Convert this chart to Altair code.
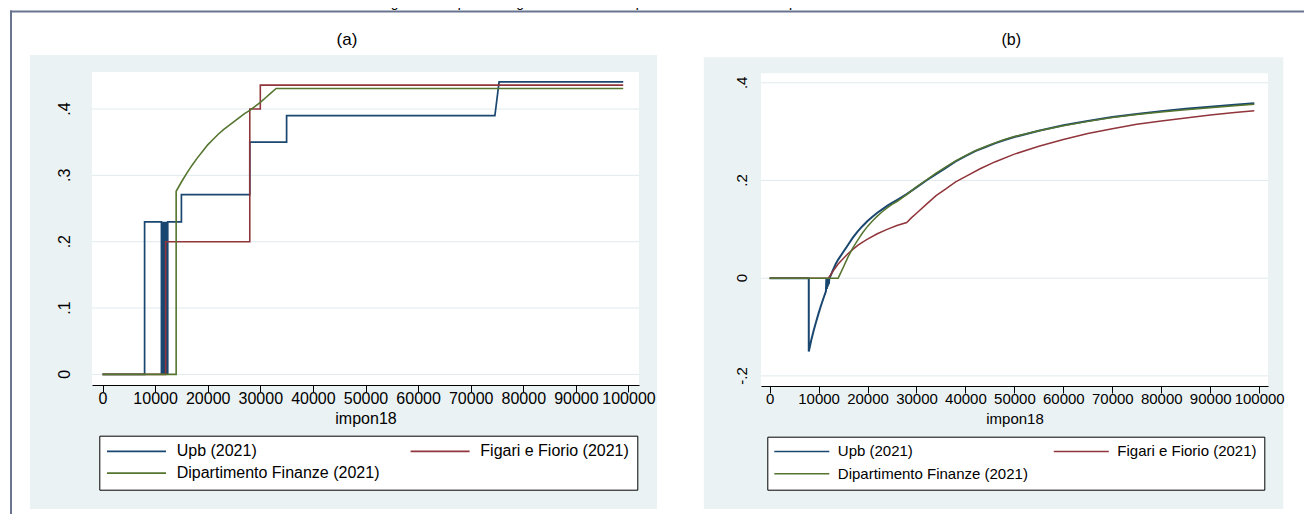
import altair as alt
import pandas as pd

FONT = "Liberation Sans"
BG = "#EAF2F3"
GRID = "#E1EAED"
FRAME = "#6A7490"

MAIN_TITLE = ("Figura 3. Aliquote marginali effettive e aliquote medie -lavoratori "
              "dipendenti senza carichi familiari \u2013 3 scenari")
SERIES = ["Upb (2021)", "Figari e Fiorio (2021)", "Dipartimento Finanze (2021)"]
COLORS = ["#1A476F", "#90353B", "#55752F"]
X_TICKS = [0, 10000, 20000, 30000, 40000, 50000, 60000, 70000, 80000, 90000, 100000]
A_Y_TICKS = [0, 0.1, 0.2, 0.3, 0.4]
A_Y_LABELS = ["0", ".1", ".2", ".3", ".4"]
B_Y_TICKS = [-0.2, 0, 0.2, 0.4]
B_Y_LABELS = ["-.2", "0", ".2", ".4"]

# ---- panel (a): effective marginal rates ----
A_UPB_X = [0, 8000, 8000, 11200, 11200, 11300, 11400, 11500, 11600, 11700, 11800, 11900,
           12000, 12100, 12200, 12300, 12400, 12400, 15000, 15000, 28000, 28000, 35000,
           35000, 74600, 75400, 99000]
A_UPB_Y = [0, 0, 0.23, 0.23, 0, 0.23, 0, 0.23, 0, 0.23, 0, 0.23, 0, 0.23, 0, 0.23, 0,
           0.23, 0.23, 0.271, 0.271, 0.35, 0.35, 0.39, 0.39, 0.441, 0.441]
A_FF_X = [0, 12000, 12000, 28000, 28000, 30000, 30000, 99000]
A_FF_Y = [0, 0, 0.2, 0.2, 0.4, 0.4, 0.436, 0.436]
A_DF_X = [0, 14000, 14000, 15000, 16000, 17000, 18000, 19000, 20000, 21000, 22000, 23000,
          24000, 25000, 26000, 27000, 28000, 29000, 30000, 31000, 32000, 33000, 99000]
A_DF_Y = [0, 0, 0.276, 0.290, 0.303, 0.315, 0.326, 0.336, 0.346, 0.354, 0.362, 0.369,
          0.375, 0.381, 0.387, 0.393, 0.398, 0.404, 0.410, 0.417, 0.424, 0.431, 0.431]

# ---- panel (b): average rates ----
B_UPB_X = [0, 8000, 8000, 8500, 9000, 9500, 10000, 10500, 11000, 11500, 11600, 11700, 11800,
           11900, 12000, 12100, 12200, 12500, 13000, 13500, 14000, 15000, 16000, 17000, 18000,
           19000, 20000, 21000, 22000, 23000, 24000, 25000, 26000, 27000, 28000, 30000, 32000,
           34000, 36000, 38000, 40000, 42000, 44000, 46000, 48000, 50000, 55000, 60000, 65000,
           70000, 75000, 80000, 85000, 90000, 95000, 99000]
B_UPB_Y = [0, 0, -0.150, -0.127, -0.107, -0.089, -0.072, -0.056, -0.041, -0.027, 0, -0.022, 0,
           -0.017, 0, -0.012, 0, 0.006, 0.018, 0.029, 0.038, 0.053, 0.068, 0.083, 0.096,
           0.107, 0.117, 0.126, 0.134, 0.141, 0.148, 0.154, 0.160, 0.166, 0.172, 0.186, 0.200,
           0.213, 0.226, 0.239, 0.250, 0.260, 0.268, 0.276, 0.283, 0.289, 0.302, 0.313, 0.322,
           0.330, 0.336, 0.342, 0.347, 0.351, 0.355, 0.358]
B_FF_X = [0, 12000, 13000, 14000, 15000, 16000, 17000, 18000, 19000, 20000, 22000, 24000,
          26000, 28000, 29000, 30000, 32000, 34000, 36000, 38000, 40000, 43000, 46000, 50000,
          55000, 60000, 65000, 70000, 75000, 80000, 85000, 90000, 95000, 99000]
B_FF_Y = [0, 0, 0.015, 0.029, 0.040, 0.050, 0.059, 0.067, 0.074, 0.080, 0.091, 0.100,
          0.108, 0.114, 0.124, 0.133, 0.151, 0.169, 0.183, 0.197, 0.208, 0.224, 0.238, 0.254,
          0.270, 0.284, 0.296, 0.306, 0.315, 0.322, 0.328, 0.334, 0.339, 0.343]
B_DF_X = [0, 14000, 15000, 16000, 17000, 18000, 19000, 20000, 21000, 22000, 23000, 24000,
          25000, 26000, 27000, 28000, 30000, 32000, 34000, 36000, 38000, 40000, 42000, 44000,
          46000, 48000, 50000, 55000, 60000, 65000, 70000, 75000, 80000, 85000, 90000, 95000,
          99000]
B_DF_Y = [0, 0, 0.021, 0.043, 0.062, 0.078, 0.093, 0.106, 0.117, 0.127, 0.136, 0.144,
          0.151, 0.157, 0.164, 0.171, 0.187, 0.201, 0.215, 0.228, 0.240, 0.251, 0.261, 0.269,
          0.277, 0.284, 0.290, 0.302, 0.312, 0.321, 0.329, 0.335, 0.340, 0.345, 0.349, 0.353,
          0.356]


def series_df(xs, ys, name):
    return pd.DataFrame({"x": xs, "y": ys, "seq": list(range(len(xs))), "series": name})


ONE = pd.DataFrame({"k": [0]})


def panel(series, w, h, xdom, ydom, yticks, ylabels, ylab_x, fs, widths, legend, bg,
          white_top, title, title_x, title_fs, extra=None):
    xs = alt.Scale(domain=xdom, nice=False, zero=False)
    ys = alt.Scale(domain=ydom, nice=False, zero=False)
    xaxis = alt.Axis(values=X_TICKS, format="d", title="impon18", titleFont=FONT,
                     titleFontSize=fs, titleFontWeight="normal", titleColor="black",
                     titleY=38 if fs == 16 else 37, titleBaseline="alphabetic",
                     labelFont=FONT, labelFontSize=fs, labelColor="black",
                     labelPadding=11.3 if fs == 16 else 10.3, labelBaseline="alphabetic",
                     labelFlush=False, labelOverlap=False, tickSize=7, tickColor="black",
                     tickWidth=1, domainColor="black", domainWidth=1, grid=False, zindex=1)
    yaxis = alt.Axis(values=yticks, labels=False, title=None, tickSize=7,
                     tickColor="black", tickWidth=1, domainColor="black", domainWidth=1,
                     grid=False, zindex=1)
    color = alt.Color("series:N", scale=alt.Scale(domain=SERIES, range=COLORS), legend=legend)
    ticks_df = pd.DataFrame({"g": yticks, "lab": ylabels})

    layers = []
    if extra:
        layers.extend(extra)
    layers.append(alt.Chart(ONE).mark_rect(color=BG).encode(
        x=alt.value(bg[0]), x2=alt.value(bg[1]), y=alt.value(bg[2]), y2=alt.value(bg[3])))
    layers.append(alt.Chart(ONE).mark_rect(color="white").encode(
        x=alt.value(0), x2=alt.value(w), y=alt.value(white_top), y2=alt.value(h)))
    layers.append(alt.Chart(ticks_df).mark_rule(color=GRID, strokeWidth=1).encode(
        y=alt.Y("g:Q", scale=ys, axis=None), x=alt.value(0), x2=alt.value(w)))
    # rotated Stata-style y tick labels, placed through the y scale
    layers.append(alt.Chart(ticks_df).mark_text(
        angle=270, align="center", baseline="alphabetic", font=FONT, fontSize=fs,
        color="black").encode(
        y=alt.Y("g:Q", scale=ys, axis=None), x=alt.value(ylab_x), text="lab:N"))
    for df, sw in zip(series, widths):
        layers.append(alt.Chart(df).mark_line(strokeWidth=sw, clip=True).encode(
            x=alt.X("x:Q", scale=xs, axis=xaxis),
            y=alt.Y("y:Q", scale=ys, axis=yaxis),
            color=color,
            order=alt.Order("seq:Q")))
    layers.append(alt.Chart(ONE).mark_text(
        text=title, font=FONT, fontSize=title_fs, color="black", align="center",
        baseline="alphabetic").encode(x=alt.value(title_x), y=alt.value(-27.3)))
    return alt.layer(*layers).properties(width=w, height=h)


legend_a = alt.Legend(orient="none", legendX=7.3, legendY=363.7, columns=2,
                      direction="horizontal", title=None,
                      symbolType="M-1.6,0H10.2", symbolSize=100, symbolStrokeWidth=1.6,
                      labelFont=FONT, labelFontSize=16, labelColor="black", labelLimit=0,
                      labelOffset=53.7, columnPadding=26.6, rowPadding=5.7, padding=7.7,
                      fillColor="white", strokeColor="black", zindex=1)
legend_b = alt.Legend(orient="none", legendX=6.3, legendY=364.7, columns=2,
                      direction="horizontal", title=None,
                      symbolType="M-1.5,0H9.5", symbolSize=100, symbolStrokeWidth=1.5,
                      labelFont=FONT, labelFontSize=15, labelColor="black", labelLimit=0,
                      labelOffset=48.5, columnPadding=22.5, rowPadding=6.6, padding=7,
                      fillColor="white", strokeColor="black", zindex=1)

frame_and_title = [
    alt.Chart(ONE).mark_rule(color=FRAME, strokeWidth=2).encode(
        x=alt.value(-82), x2=alt.value(1212), y=alt.value(-60.5)),
    alt.Chart(ONE).mark_rule(color=FRAME, strokeWidth=2).encode(
        x=alt.value(-81), y=alt.value(-61.5), y2=alt.value(445)),
    alt.Chart(ONE).mark_text(text=MAIN_TITLE, font=FONT, fontSize=14, color="black",
                             align="center", baseline="alphabetic").encode(
        x=alt.value(624), y=alt.value(-65)),
]

chart_a = panel(
    [series_df(A_UPB_X, A_UPB_Y, SERIES[0]), series_df(A_FF_X, A_FF_Y, SERIES[1]),
     series_df(A_DF_X, A_DF_Y, SERIES[2])],
    547, 313, [-2000, 102000], [-0.016, 0.4558], A_Y_TICKS, A_Y_LABELS, -22, 16,
    [1.7, 1.6, 1.6], legend_a, [-62, 565, -17, 437], 0, "(a)", 255, 17,
    extra=frame_and_title)

chart_b = panel(
    [series_df(B_UPB_X, B_UPB_Y, SERIES[0]), series_df(B_FF_X, B_FF_Y, SERIES[1]),
     series_df(B_DF_X, B_DF_Y, SERIES[2])],
    507, 314, [-1760, 101800], [-0.2207, 0.4221], B_Y_TICKS, B_Y_LABELS, -14.5, 15,
    [2.0, 1.5, 1.5], legend_b, [-57.2, 522.3, -14.7, 437], 1.3, "(b)", 250.3, 16)

chart = alt.hconcat(chart_a, chart_b, spacing=122, bounds="flush").resolve_scale(
    x="independent", y="independent", color="independent"
).properties(
    autosize=alt.AutoSizeParams(type="none"),
    padding={"left": 84, "top": 64, "right": 1212, "bottom": 442},
).configure(background="white").configure_view(stroke=None)

chart.save("out.html", embed_options={"renderer": "svg", "actions": False})
